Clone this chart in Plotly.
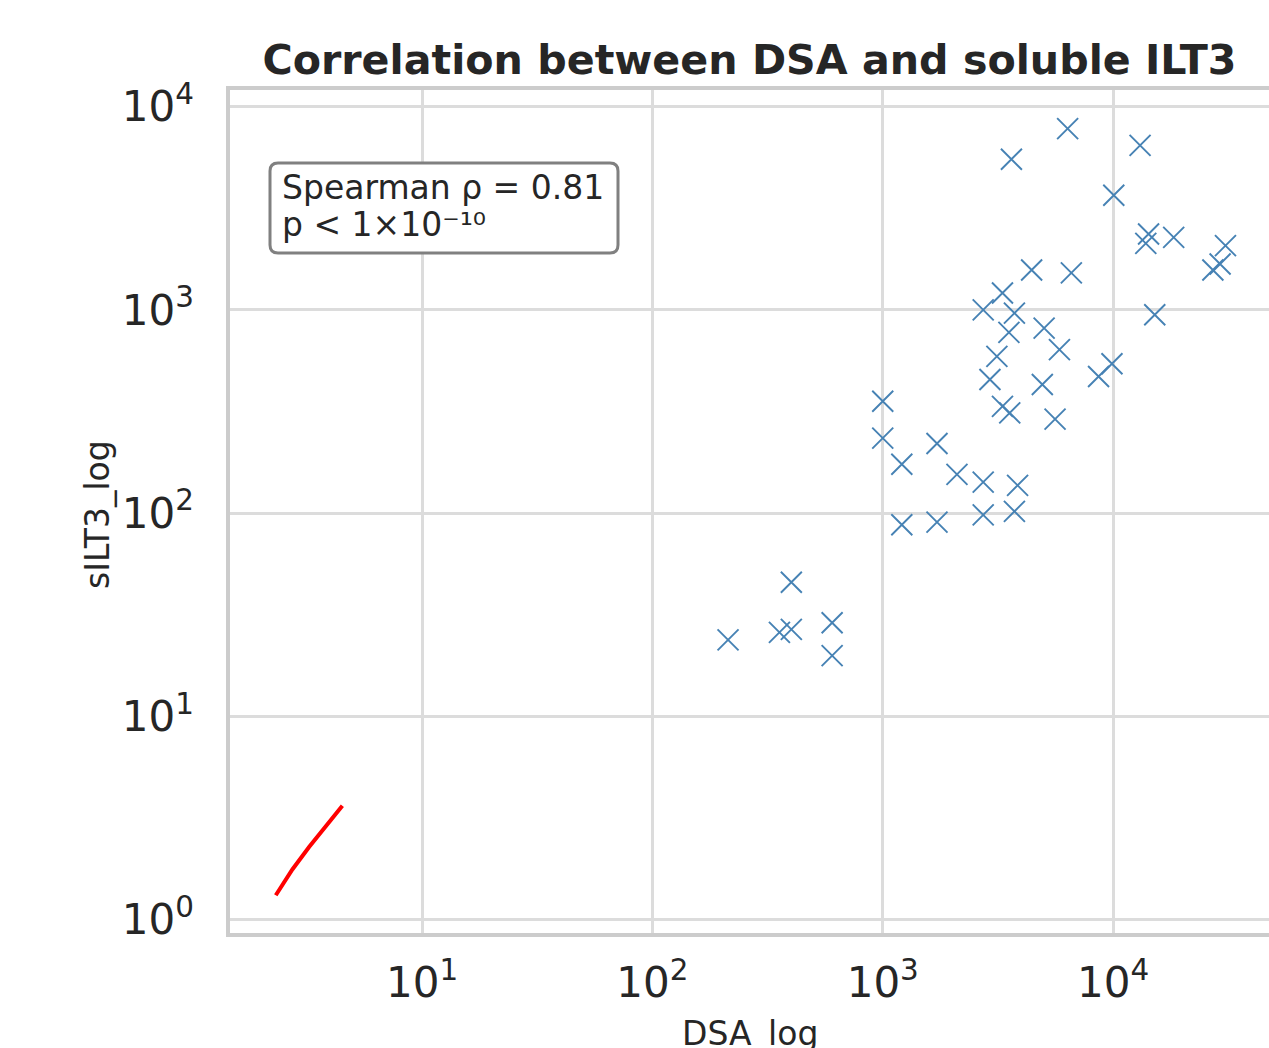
import plotly.graph_objects as go

# ---- data ----
dsa = [6350, 3620, 13100, 10070, 14260, 13870, 18330, 30760, 29150, 27120,
       4430, 6590, 3310, 2730, 3730, 15170, 3530, 5020, 5850, 3130, 9890, 8650,
       2920, 4930, 1000, 3310, 3560, 5600, 1000, 1720, 1210, 2100, 2730, 3850,
       1210, 1720, 2730, 3730, 401, 213, 356, 401, 603, 603]
silt3 = [7780, 5500, 6440, 3660, 2360, 2120, 2270, 2070, 1680, 1570,
         1570, 1520, 1210, 1000, 963, 945, 774, 813, 637, 590, 543, 470,
         454, 429, 355, 335, 311, 290, 234, 220, 174, 155, 142, 137,
         87.7, 90.3, 98, 102, 45.7, 23.8, 25.9, 26.8, 28.9, 19.9]

fit_x = [2.316, 2.734, 3.231, 3.817, 4.507]
fit_y = [1.320, 1.768, 2.279, 2.901, 3.638]

x_tickvals = [10, 100, 1000, 10000]
x_ticktext = ["10<sup>1</sup>", "10<sup>2</sup>", "10<sup>3</sup>", "10<sup>4</sup>"]
y_tickvals = [1, 10, 100, 1000, 10000]
y_ticktext = ["10<sup>0</sup>", "10<sup>1</sup>", "10<sup>2</sup>", "10<sup>3</sup>", "10<sup>4</sup>"]

title_text = "Correlation between DSA and soluble ILT3"
x_label = "DSA_log"
y_label = "sILT3_log"
stats_line1 = "Spearman ρ = 0.81"
stats_line2 = "p &lt; 1×10⁻¹⁰"

FONT = "DejaVu Sans"
TXT = "#262626"
W, H = 1269, 1048
L, R, T, B = 230, 0, 90, 115
PW, PH = W - L - R, H - T - B


def px(x):
    return (x - L) / PW


def py(y):
    return (H - B - y) / PH


fig = go.Figure()
fig.add_trace(go.Scatter(
    x=dsa, y=silt3, mode="markers",
    marker=dict(symbol="x-thin", size=21, color="#4682b4",
                line=dict(color="#4682b4", width=1.9)),
    showlegend=False,
))
fig.add_trace(go.Scatter(
    x=fit_x, y=fit_y, mode="lines",
    line=dict(color="red", width=4),
    showlegend=False,
))

# rounded stats box
x0, x1, y0, y1 = px(270), px(618), py(253), py(163)
rx, ry = 8 / PW, 8 / PH
path = (f"M {x0+rx},{y1} L {x1-rx},{y1} Q {x1},{y1} {x1},{y1-ry} "
        f"L {x1},{y0+ry} Q {x1},{y0} {x1-rx},{y0} L {x0+rx},{y0} "
        f"Q {x0},{y0} {x0},{y0+ry} L {x0},{y1-ry} Q {x0},{y1} {x0+rx},{y1} Z")
fig.add_shape(type="path", path=path, xref="paper", yref="paper",
              line=dict(color="#808080", width=3), fillcolor="white", layer="above")

fig.add_annotation(text=stats_line1, x=px(280), y=py(188), xref="paper", yref="paper",
                   xanchor="left", yanchor="middle", showarrow=False,
                   font=dict(family=FONT, size=33, color=TXT))
fig.add_annotation(text=stats_line2, x=px(280), y=py(224), xref="paper", yref="paper",
                   xanchor="left", yanchor="middle", showarrow=False,
                   font=dict(family=FONT, size=33, color=TXT))

# axis titles
fig.add_annotation(text=x_label, x=0.5, y=py(1033), xref="paper", yref="paper",
                   xanchor="center", yanchor="middle", showarrow=False,
                   font=dict(family=FONT, size=33, color=TXT))
fig.add_annotation(text=y_label, x=px(97), y=py(515), xref="paper", yref="paper",
                   xanchor="center", yanchor="middle", showarrow=False, textangle=-90,
                   font=dict(family=FONT, size=33, color=TXT))

fig.update_layout(
    width=W, height=H,
    margin=dict(l=L, r=R, t=T, b=B),
    paper_bgcolor="white", plot_bgcolor="white",
    title=dict(text=title_text, x=0.5, xref="paper", xanchor="center",
               y=1 - 60 / H, yref="container", yanchor="middle",
               font=dict(family=FONT, size=41.2, color=TXT, weight="bold")),
    xaxis=dict(type="log", range=[0.166, 4.677], tickvals=x_tickvals, ticktext=x_ticktext,
               showgrid=True, gridcolor="#dcdcdc", gridwidth=2.5, zeroline=False,
               showline=True, linecolor="#cccccc", linewidth=3.5, mirror=True,
               ticks="", ticklabelstandoff=10,
               tickfont=dict(family=FONT, size=42, color=TXT)),
    yaxis=dict(type="log", range=[-0.065, 4.081], tickvals=y_tickvals, ticktext=y_ticktext,
               showgrid=True, gridcolor="#dcdcdc", gridwidth=2.5, zeroline=False,
               showline=True, linecolor="#cccccc", linewidth=3.5, mirror=False,
               ticks="", ticklabelstandoff=24,
               tickfont=dict(family=FONT, size=42, color=TXT)),
)

fig.write_html(
    "out.html",
    config={"displayModeBar": False},
    post_script="document.body.style.margin='0px';"
                "document.documentElement.style.overflow='hidden';",
)
